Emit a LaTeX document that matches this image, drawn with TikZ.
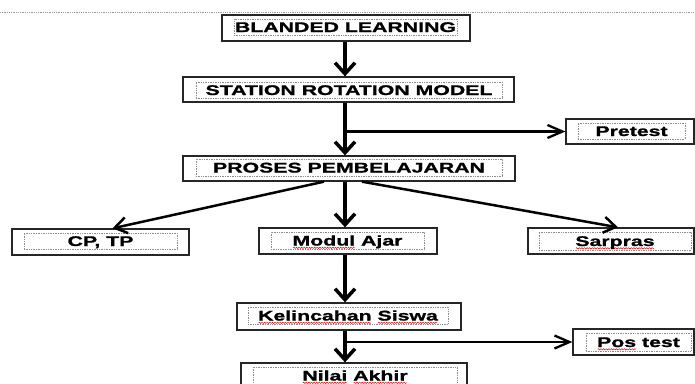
\documentclass[tikz,border=0pt]{standalone}
\usepackage{fontspec}
\usetikzlibrary{arrows.meta,decorations.pathmorphing}
\newfontfamily\boxfont{Liberation Sans}[FakeStretch=1.52,FakeBold=1.3]
\newsavebox\splbox
\newlength\splw
\newcommand\spl[1]{\sbox\splbox{#1}\setlength\splw{\wd\splbox}%
  \tikz[overlay,baseline=0pt,x=1pt,y=1pt]\draw[red!85!black, line width=0.45pt,
    decorate, decoration={snake, amplitude=0.7pt, segment length=2.6pt}]
    (0.5pt,-2.3pt) -- (\splw-0.5pt,-2.3pt);%
  \usebox\splbox}
\begin{document}
\begin{tikzpicture}[x=1pt,y=-1pt,
  outer/.style={draw=black!85, line width=1.3pt, fill=white, inner sep=0pt},
  inner/.style={draw=black!45, densely dotted, line width=0.7pt, inner sep=0pt,
    text height=10pt, text depth=0pt, font=\boxfont\bfseries\fontsize{14}{16}\selectfont},
  label/.style={inner sep=0pt, text height=10pt, text depth=0pt,
    font=\boxfont\bfseries\fontsize{14}{16}\selectfont},
  vline/.style={line width=3.5pt, -{Straight Barb[length=11pt,width=20pt]}},
  hline/.style={line width=2.3pt, -{Straight Barb[length=15pt,width=13pt]}},
  dline/.style={line width=2.5pt, -{Straight Barb[length=12pt,width=16pt]}}]
\useasboundingbox (0,0) rectangle (695,383);
\clip (0,0) rectangle (695,383);
\draw[black!40, densely dotted, line width=0.8pt] (0,12) -- (695,12);

% boxes
\node[outer, minimum width=248pt, minimum height=26pt] (bl) at (346,28) {};
\node[inner, minimum width=223pt, minimum height=16pt] (bl-t) at (345.5,27) {BLANDED LEARNING};

\node[outer, minimum width=331pt, minimum height=25pt] (srm) at (348.5,89.5) {};
\node[inner, minimum width=306pt, minimum height=16pt] (srm-t) at (349,90) {STATION ROTATION MODEL};

\node[outer, minimum width=128pt, minimum height=25pt] (pre) at (630,131.5) {};
\node[inner, minimum width=107pt, minimum height=16pt] (pre-t) at (631.5,131) {Pretest};

\node[outer, minimum width=332pt, minimum height=25pt] (pp) at (349,168.5) {};
\node[inner, minimum width=306pt, minimum height=17pt] (pp-t) at (349,167.5) {PROSES PEMBELAJARAN};

\node[outer, minimum width=177pt, minimum height=26pt] (cp) at (100.5,242) {};
\node[inner, minimum width=153pt, minimum height=16pt] (cp-t) at (100.5,241) {CP, TP};

\node[outer, minimum width=178pt, minimum height=26pt] (mod) at (348,241) {};
\node[inner, minimum width=153pt, minimum height=17pt] (mod-t) at (347.5,240.5) {\spl{Modul} Ajar};

\node[outer, minimum width=166pt, minimum height=26pt] (sar) at (611,241) {};
\node[inner, minimum width=152pt, minimum height=18pt] (sar-t) at (615,241) {\spl{Sarpras}};

\node[outer, minimum width=224pt, minimum height=27pt] (kel) at (349,316.5) {};
\node[inner, minimum width=200pt, minimum height=17pt] (kel-t) at (348,315.5) {\spl{Kelincahan} \spl{Siswa}};

\node[outer, minimum width=121pt, minimum height=26pt] (pos) at (633.5,342) {};
\node[inner, minimum width=105pt, minimum height=18pt] (pos-t) at (638.5,342) {\spl{Pos} test};

\node[outer, minimum width=226pt, minimum height=32pt] (nil) at (354,379) {};
\node[inner, minimum width=204pt, minimum height=24pt] (nil-in) at (355,379) {};
\node[label] (nil-t) at (355,375.5) {\spl{Nilai} \spl{Akhir}};

% connectors
\coordinate (spine) at (345,0);
\draw[vline] (bl.south -| spine) -- (srm.north -| spine);
\draw[vline] (srm.south -| spine) -- (pp.north -| spine);
\draw[hline] (spine |- pre.west) -- (pre.west);
\draw[vline] (pp.south -| spine) -- (mod.north -| spine);
\draw[dline] ([xshift=-25pt]pp.south) -- ([xshift=12pt]cp.north);
\draw[dline] ([xshift=13pt]pp.south) -- ([xshift=7pt]sar.north);
\draw[vline] (mod.south -| spine) -- (kel.north -| spine);
\draw[vline] (kel.south -| spine) -- (nil.north -| spine);
\draw[hline] (spine |- pos.west) -- (pos.west);
\end{tikzpicture}
\end{document}
